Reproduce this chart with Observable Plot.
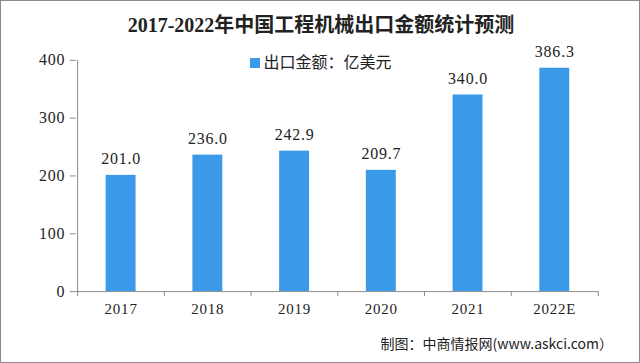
<!DOCTYPE html>
<html>
<head>
<meta charset="utf-8">
<script src="https://cdn.jsdelivr.net/npm/d3@7"></script>
<script src="https://cdn.jsdelivr.net/npm/@observablehq/plot@0.6"></script>
<style>
  html, body { margin: 0; padding: 0; background: #fff; }
  #wrap { position: relative; width: 640px; height: 363px; box-sizing: border-box; border: 1px solid #8a8a8a; overflow: hidden; background: #fff; }
  #wrap svg { position: absolute; left: -1px; top: -1px; }
  #wrap svg text { letter-spacing: 0.8px; }
  .title { position: absolute; left: 0; width: 640px; top: 8px; text-align: center; font-family: "Liberation Serif", "Noto Sans CJK SC", serif; font-weight: bold; font-size: 20px; color: #222; white-space: nowrap; }
  .legend { position: absolute; left: 0; width: 640px; top: 48px; text-align: center; font-family: "Noto Sans CJK SC", sans-serif; font-size: 16px; color: #222; white-space: nowrap; }
  .legend .sw { display: inline-block; width: 10px; height: 10px; background: #3a99e8; margin-right: 3px; vertical-align: 0px; }
  .caption { position: absolute; right: 26px; top: 332px; font-family: "Noto Sans CJK SC", sans-serif; font-size: 14px; color: #222; white-space: nowrap; }
</style>
</head>
<body>
<div id="wrap">
  <div class="title">2017-2022年中国工程机械出口金额统计预测</div>
  <div class="legend"><span class="sw"></span>出口金额：亿美元</div>
  <div class="caption">制图：中商情报网(www.askci.com）</div>
</div>
<script>
const years = ["2017", "2018", "2019", "2020", "2021", "2022E"];
const values = [201.0, 236.0, 242.9, 209.7, 340.0, 386.3];
const yTicks = [0, 100, 200, 300, 400];

const data = years.map((year, i) => ({year, value: values[i]}));

const W = 640, H = 363, ML = 76, MR = 40, MT = 60, MB = 71;
const step = (W - ML - MR) / years.length;
const axisColor = "#8c8c8c";
const numFont = "'Liberation Serif', 'Noto Sans CJK SC', serif";

const chart = Plot.plot({
  width: W,
  height: H,
  marginLeft: ML,
  marginRight: MR,
  marginTop: MT,
  marginBottom: MB,
  style: {fontFamily: numFont, fontSize: "15px", color: "#222", background: "transparent"},
  x: {domain: years, paddingInner: 0.657, paddingOuter: 0.3285, label: null},
  y: {domain: [0, 400], label: null},
  marks: [
    Plot.barY(data, {x: "year", y: "value", fill: "#3a99e8"}),
    Plot.ruleY([0], {stroke: axisColor}),
    Plot.ruleX([years[0]], {y1: 0, y2: 400, dx: -step / 2, stroke: axisColor}),
    Plot.axisY({ticks: yTicks, tickSize: 6, tickPadding: 5, stroke: axisColor, fill: "#222", fontSize: 16, label: null}),
    Plot.axisX({ticks: years, tickSize: 5, text: null, dx: -step / 2, stroke: axisColor, label: null}),
    Plot.axisX({ticks: [years[years.length - 1]], tickSize: 5, text: null, dx: step / 2, stroke: axisColor, label: null}),
    Plot.axisX({tickSize: 0, tickPadding: 12, fill: "#222", fontSize: 15, label: null}),
    Plot.text(data, {x: "year", y: "value", text: d => d.value.toFixed(1), dy: -11, lineAnchor: "bottom", fill: "#222", fontSize: 16})
  ]
});
document.getElementById("wrap").prepend(chart);
</script>
</body>
</html>
